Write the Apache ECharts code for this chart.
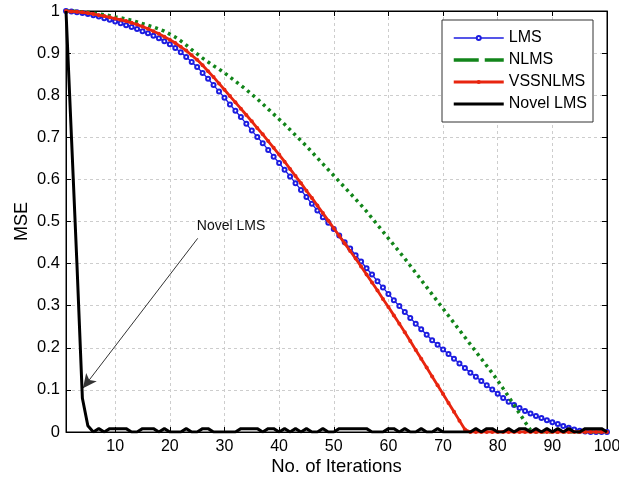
<!DOCTYPE html>
<html><head><meta charset="utf-8">
<script src="https://cdn.jsdelivr.net/npm/echarts@6/dist/echarts.min.js"></script>
<style>html,body{margin:0;padding:0;background:#fff}#c{width:619px;height:481px}</style>
</head><body><div id="c"></div>
<script>
const xTicks = [10,20,30,40,50,60,70,80,90,100];
const seriesNames = ['LMS','NLMS','VSSNLMS','Novel LMS'];
const lms = [
1.000,0.999,0.997,0.995,0.993,0.990,0.987,0.983,0.979,0.975,
0.971,0.966,0.962,0.957,0.952,0.947,0.941,0.935,0.928,0.921,
0.912,0.902,0.891,0.879,0.867,0.853,0.839,0.824,0.809,0.794,
0.778,0.763,0.748,0.732,0.716,0.701,0.686,0.670,0.654,0.639,
0.623,0.607,0.591,0.575,0.558,0.542,0.526,0.510,0.497,0.482,
0.467,0.451,0.436,0.420,0.405,0.389,0.374,0.358,0.343,0.328,
0.313,0.299,0.285,0.271,0.257,0.244,0.231,0.218,0.207,0.196,
0.185,0.174,0.163,0.152,0.141,0.131,0.121,0.111,0.101,0.091,
0.081,0.072,0.064,0.057,0.050,0.044,0.038,0.033,0.028,0.023,
0.019,0.014,0.010,0.006,0.003,0.001,0,0,0,0];
const nlms = [
1.000,1.000,0.999,0.998,0.997,0.995,0.993,0.991,0.989,0.986,
0.984,0.981,0.978,0.974,0.970,0.966,0.962,0.957,0.952,0.945,
0.938,0.929,0.919,0.908,0.898,0.888,0.879,0.870,0.862,0.853,
0.843,0.833,0.823,0.813,0.802,0.791,0.779,0.767,0.755,0.743,
0.731,0.718,0.705,0.692,0.679,0.665,0.651,0.637,0.623,0.609,
0.595,0.581,0.567,0.553,0.539,0.524,0.508,0.492,0.476,0.460,
0.444,0.428,0.412,0.395,0.378,0.361,0.344,0.327,0.310,0.293,
0.276,0.259,0.242,0.225,0.208,0.191,0.174,0.157,0.140,0.122,
0.103,0.084,0.064,0.044,0.024,0.005,0,0,0,0,
0,0,0,0,0,0,0,0,0,0];
const vssnlms = [
1.000,0.999,0.998,0.997,0.995,0.993,0.990,0.988,0.985,0.982,
0.979,0.976,0.972,0.968,0.963,0.958,0.952,0.946,0.939,0.932,
0.924,0.915,0.906,0.895,0.884,0.871,0.857,0.843,0.828,0.813,
0.798,0.783,0.768,0.753,0.738,0.722,0.707,0.691,0.675,0.659,
0.642,0.625,0.608,0.591,0.573,0.556,0.538,0.520,0.502,0.484,
0.466,0.448,0.430,0.412,0.393,0.374,0.355,0.336,0.316,0.297,
0.277,0.257,0.237,0.216,0.195,0.174,0.153,0.132,0.111,0.090,
0.069,0.048,0.027,0.006,0,0,0,0,0,0,
0,0,0,0,0,0,0,0,0,0,
0,0,0,0,0,0,0,0,0,0];
const novelLms = [
1.0,0.70,0.40,0.08,0.015,0,0.008,0,0.008,0.008,
0.008,0.008,0,0,0.008,0.008,0.008,0,0.008,0,
0,0,0.008,0,0,0.008,0.008,0,0,0,
0,0,0.008,0.008,0.008,0.008,0,0.008,0.008,0,
0.008,0,0.008,0,0.008,0,0,0.008,0,0,
0.008,0.008,0.008,0.008,0.008,0.008,0,0,0,0.008,
0.008,0,0.008,0,0,0.008,0,0,0.008,0,
0,0,0,0,0,0.008,0,0.008,0.008,0,
0,0.008,0,0.008,0.008,0,0.008,0,0.008,0,
0.008,0,0.008,0,0,0.008,0.008,0.008,0.008,0];
const annotationText = 'Novel LMS';
const annotationTextAt = [31.2, 0.49];
const arrowFrom = [25.1, 0.46];
const arrowTo = [4.1, 0.104];

const FONT = 'Liberation Sans, Arial, Helvetica, sans-serif';
const pairs = a => a.map((v, i) => [i + 1, v]);
const BLUE = '#1c1ce0', GREEN = '#12851a', RED = '#e8250f';
const hidden = {opacity: 0, color: 'rgba(0,0,0,0)', borderWidth: 0};

const chart = echarts.init(document.getElementById('c'), null, {renderer: 'canvas'});
chart.setOption({
  animation: false,
  backgroundColor: '#fff',
  textStyle: {fontFamily: FONT},
  grid: {left: 66, right: 12, top: 11, bottom: 49, show: true, borderColor: '#000', borderWidth: 1,
         backgroundColor: 'transparent', containLabel: false, outerBoundsMode: 'none'},
  legend: {
    orient: 'vertical', left: 442, top: 20,
    itemWidth: 50, itemHeight: 5, itemGap: 4, itemTextGap: 6,
    padding: [9, 6, 9, 10],
    borderColor: '#333', borderWidth: 1, backgroundColor: '#fff',
    textStyle: {fontSize: 16, color: '#000', fontFamily: FONT, lineHeight: 18},
    data: [
      {name: seriesNames[0], lineStyle: {width: 1.5}},
      {name: seriesNames[1], lineStyle: {type: [25, 6], width: 3.5}, itemStyle: hidden},
      {name: seriesNames[2], lineStyle: {width: 3}},
      {name: seriesNames[3], lineStyle: {width: 3}, itemStyle: hidden}
    ]
  },
  xAxis: [{
    type: 'value', min: 1, max: 100, position: 'bottom',
    axisLine: {show: true, onZero: false, lineStyle: {color: '#000', width: 1}},
    axisTick: {show: true, inside: true, length: 5, customValues: xTicks, lineStyle: {color: '#000'}},
    axisLabel: {customValues: xTicks, color: '#000', fontSize: 16, margin: 7, fontFamily: FONT},
    splitLine: {show: true, lineStyle: {color: '#cdcdcd', type: [3, 3], width: 1}},
    name: 'No. of Iterations', nameLocation: 'middle', nameGap: 25, nameMoveOverlap: false,
    nameTextStyle: {fontSize: 18.5, color: '#000', fontFamily: FONT}
  }, {
    type: 'value', min: 1, max: 100, position: 'top',
    axisLine: {show: true, onZero: false, lineStyle: {color: '#000'}},
    axisTick: {show: true, inside: true, length: 5, customValues: xTicks, lineStyle: {color: '#000'}},
    axisLabel: {show: false}, splitLine: {show: false}
  }],
  yAxis: [{
    type: 'value', min: 0, max: 1, interval: 0.1,
    axisLine: {show: true, onZero: false, lineStyle: {color: '#000', width: 1}},
    axisTick: {show: true, inside: true, length: 5, lineStyle: {color: '#000'}},
    axisLabel: {color: '#000', fontSize: 16.5, margin: 6, fontFamily: FONT},
    splitLine: {show: true, lineStyle: {color: '#cdcdcd', type: [3, 3], width: 1}},
    name: 'MSE', nameLocation: 'middle', nameGap: 35, nameRotate: 90, nameMoveOverlap: false,
    nameTextStyle: {fontSize: 18, color: '#000', fontFamily: FONT}
  }, {
    type: 'value', min: 0, max: 1, interval: 0.1, position: 'right',
    axisLine: {show: true, onZero: false, lineStyle: {color: '#000'}},
    axisTick: {show: true, inside: true, length: 5, lineStyle: {color: '#000'}},
    axisLabel: {show: false}, splitLine: {show: false}
  }],
  series: [
    {name: seriesNames[0], type: 'line', data: pairs(lms), symbol: 'emptyCircle', symbolSize: 4,
     lineStyle: {color: BLUE, width: 1.3}, itemStyle: {color: BLUE, borderWidth: 1}, z: 2},
    {name: seriesNames[1], type: 'line', data: pairs(nlms), symbol: 'none',
     lineStyle: {color: GREEN, width: 3.5, type: [3, 4]}, itemStyle: {color: GREEN}, z: 3},
    {name: seriesNames[2], type: 'line', data: pairs(vssnlms), symbol: 'circle', symbolSize: 4,
     lineStyle: {color: RED, width: 2.8}, itemStyle: {color: RED}, z: 4},
    {name: seriesNames[3], type: 'line', data: pairs(novelLms), symbol: 'none',
     lineStyle: {color: '#000', width: 3}, itemStyle: {color: '#000'}, z: 5,
     markLine: {
       silent: true, symbol: ['none', 'arrow'], symbolSize: [10, 14], animation: false,
       label: {show: false},
       lineStyle: {color: '#333', width: 1, type: 'solid'},
       itemStyle: {color: '#111'},
       data: [[{coord: arrowFrom}, {coord: arrowTo}]]
     },
     markPoint: {
       silent: true, symbol: 'rect', symbolSize: 1, animation: false,
       itemStyle: {color: 'rgba(0,0,0,0)'},
       label: {show: true, position: 'inside', formatter: annotationText, color: '#111', fontSize: 14, fontFamily: FONT},
       data: [{coord: annotationTextAt}]
     }}
  ]
});
</script></body></html>
